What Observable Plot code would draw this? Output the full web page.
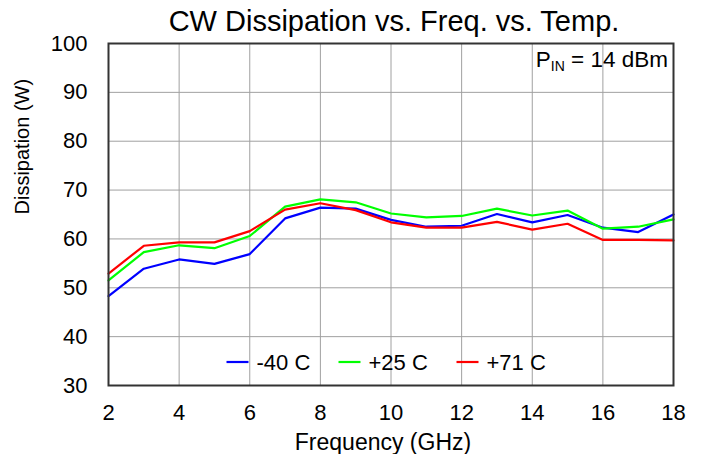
<!DOCTYPE html>
<html>
<head>
<meta charset="utf-8">
<script src="https://cdn.jsdelivr.net/npm/d3@7"></script>
<script src="https://cdn.jsdelivr.net/npm/@observablehq/plot@0.6"></script>
<style>
  html, body { margin: 0; padding: 0; background: #fff; }
  #chart { position: relative; width: 702px; height: 454px; }
</style>
</head>
<body>
<div id="chart"></div>
<script>
const freq = [2, 3, 4, 5, 6, 7, 8, 9, 10, 11, 12, 13, 14, 15, 16, 17, 18];
const minus40 = [48.3, 53.9, 55.8, 54.9, 56.9, 64.2, 66.4, 66.2, 63.9, 62.5, 62.7, 65.1, 63.4, 64.9, 62.3, 61.4, 65.0];
const plus25  = [51.5, 57.3, 58.7, 58.1, 60.6, 66.6, 68.1, 67.5, 65.2, 64.4, 64.7, 66.2, 64.8, 65.8, 62.1, 62.5, 64.0];
const plus71  = [52.9, 58.6, 59.3, 59.3, 61.6, 66.0, 67.3, 65.9, 63.4, 62.3, 62.3, 63.5, 61.9, 63.1, 59.8, 59.8, 59.7];
const seriesNames = ["-40 C", "+25 C", "+71 C"];
const seriesColors = ["#0000ff", "#00ff00", "#ff0000"];
const xTicks = [2, 4, 6, 8, 10, 12, 14, 16, 18];
const yTicks = [30, 40, 50, 60, 70, 80, 90, 100];

const seriesValues = [minus40, plus25, plus71];
const rows = [];
seriesNames.forEach((name, i) => {
  freq.forEach((f, j) => rows.push({series: name, freq: f, value: seriesValues[i][j]}));
});

const font = "'Liberation Sans', Arial, sans-serif";

const plot = Plot.plot({
  width: 702,
  height: 454,
  marginLeft: 108,
  marginRight: 29,
  marginTop: 43,
  marginBottom: 69,
  style: {fontFamily: font, fontSize: "22px", color: "#000", background: "#fff", overflow: "visible"},
  x: {domain: [2, 18]},
  y: {domain: [30, 100]},
  color: {domain: seriesNames, range: seriesColors},
  marks: [
    Plot.gridX(xTicks, {stroke: "#a0a0a0", strokeOpacity: 1, strokeWidth: 1}),
    Plot.gridY(yTicks, {stroke: "#a0a0a0", strokeOpacity: 1, strokeWidth: 1}),
    Plot.lineY(rows, {x: "freq", y: "value", stroke: "series", strokeWidth: 2.2}),
    Plot.frame({stroke: "#333", strokeWidth: 2}),
    Plot.axisX({ticks: xTicks, tickSize: 0, tickPadding: 19, fontSize: 22, label: null}),
    Plot.axisY({ticks: yTicks, tickSize: 0, tickPadding: 21, fontSize: 22, label: null}),
    Plot.text(["CW Dissipation vs. Freq. vs. Temp."], {frameAnchor: "top", lineAnchor: "middle", dy: -22, dx: 3, fontSize: 29, fill: "#000"}),
    Plot.text(["Frequency (GHz)"], {frameAnchor: "bottom", lineAnchor: "middle", dy: 57, dx: -8, fontSize: 23, fill: "#000"}),
    Plot.text(["Dissipation (W)"], {frameAnchor: "left", lineAnchor: "middle", dx: -86, rotate: -90, fontSize: 20, fill: "#000"})
  ]
});

document.getElementById("chart").appendChild(plot);

// annotations drawn into the same SVG
const svg = d3.select(plot);
const xs = plot.scale("x"), ys = plot.scale("y");
const fx0 = xs.apply(2), fx1 = xs.apply(18), fy0 = ys.apply(100), fy1 = ys.apply(30);
const cx = (fx0 + fx1) / 2;

// P_IN annotation
const pin = svg.append("text")
  .attr("x", fx1 - 5).attr("y", fy0 + 24)
  .attr("text-anchor", "end")
  .attr("font-family", font).attr("font-size", 22.5).attr("fill", "#000");
pin.append("tspan").text("P");
pin.append("tspan").attr("font-size", 14).attr("dy", 4).text("IN");
pin.append("tspan").attr("dy", -4).text(" = 14 dBm");

// legend inside plot bottom
const legendOffsets = [-164, -52, 66];
const ly = fy1 - 23;
seriesNames.forEach((name, i) => {
  const x = cx + legendOffsets[i];
  svg.append("line").attr("x1", x).attr("x2", x + 22).attr("y1", ly).attr("y2", ly)
    .attr("stroke", seriesColors[i]).attr("stroke-width", 2.2);
  svg.append("text").attr("x", x + 30).attr("y", ly).attr("dy", "0.35em")
    .attr("text-anchor", "start")
    .attr("font-family", font).attr("font-size", 22).attr("fill", "#000").text(name);
});
</script>
</body>
</html>
